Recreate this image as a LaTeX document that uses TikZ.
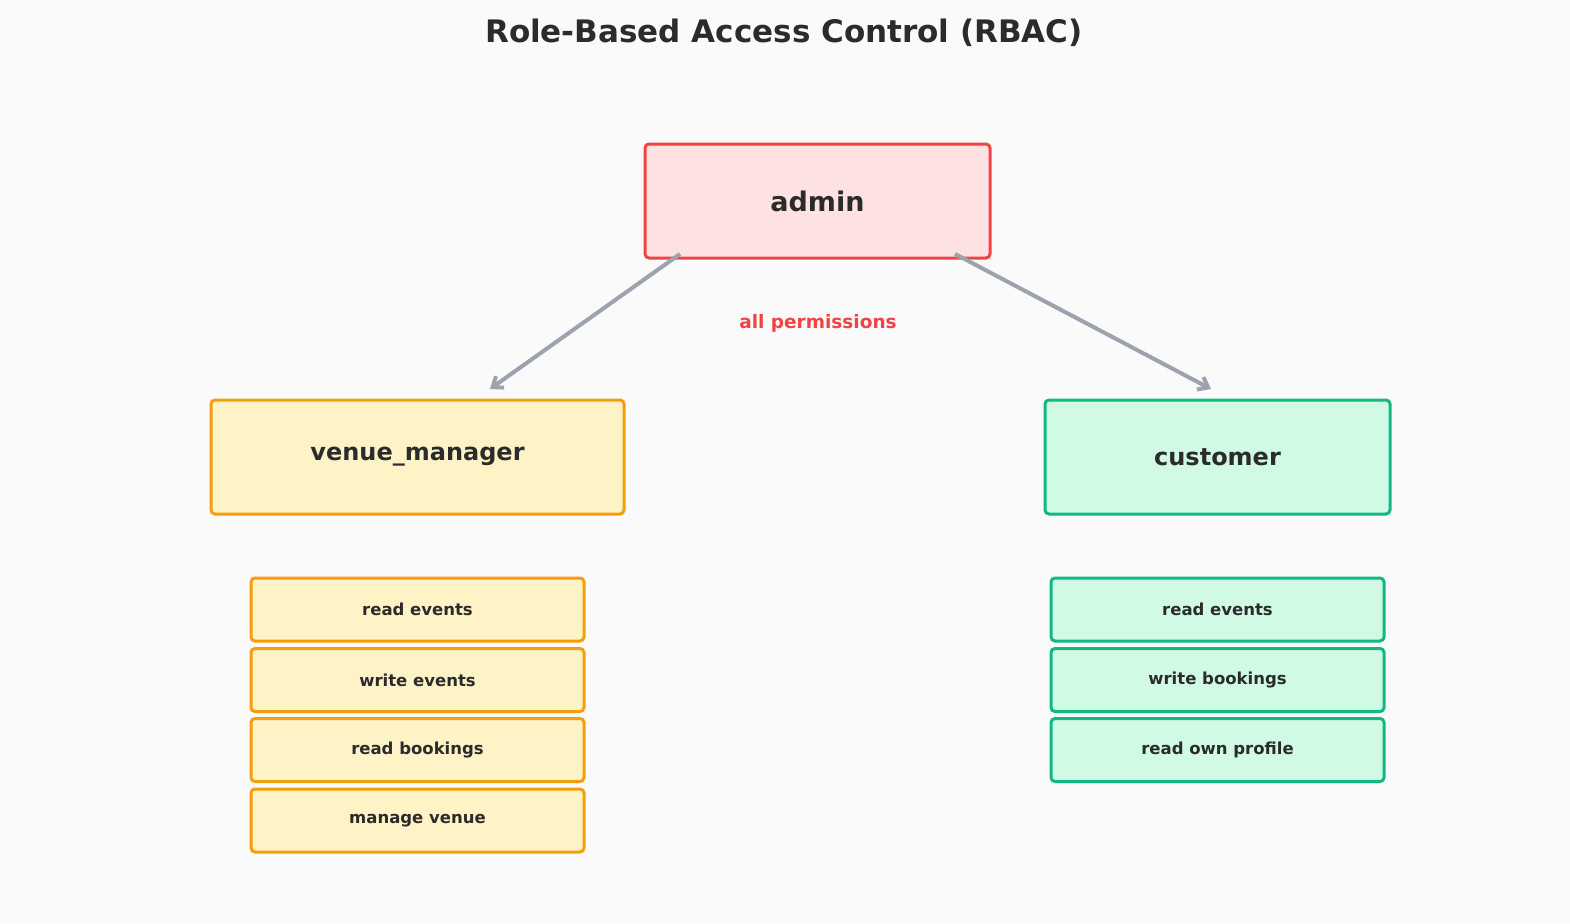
\documentclass[tikz,border=0pt]{standalone}
\usepackage{fontspec}
\setmainfont{DejaVu Sans}
\usetikzlibrary{arrows.meta}
\definecolor{bg}{HTML}{FAFAFA}
\definecolor{txt}{HTML}{2B2B2B}
\definecolor{redb}{HTML}{EF4444}\definecolor{redf}{HTML}{FEE2E2}
\definecolor{orb}{HTML}{F59E0B}\definecolor{orf}{HTML}{FEF3C7}
\definecolor{grb}{HTML}{10B981}\definecolor{grf}{HTML}{D1FAE5}
\definecolor{arr}{HTML}{9CA3AF}
\begin{document}
\begin{tikzpicture}[x=1pt,y=-1pt,
 box/.style={draw,line width=3pt,rounded corners=4pt,inner sep=0pt,text=txt,font=\bfseries},
 role/.style={box,minimum height=114pt,font=\fontsize{24}{28}\selectfont\bfseries},
 perm/.style={box,minimum width=333pt,minimum height=63pt,font=\fontsize{16.5}{20}\selectfont\bfseries},
 vm/.style={perm,draw=orb,fill=orf},
 cu/.style={perm,draw=grb,fill=grf},
 link/.style={draw=arr,line width=4pt,-{Stealth[length=12pt,width=14pt,inset=0pt,open]}}]
\fill[bg] (0,0) rectangle (1570,923);
\node[text=txt,font=\fontsize{31}{36}\selectfont\bfseries] (title) at (784,33) {Role-Based Access Control (RBAC)};
\node[role,draw=redb,fill=redf,minimum width=345pt,font=\fontsize{27}{32}\selectfont\bfseries] (admin) at (817.5,201) {admin};
\node[role,draw=orb,fill=orf,minimum width=413pt] (vmgr) at (417.5,457) {venue\_manager};
\node[role,draw=grb,fill=grf,minimum width=345pt] (cust) at (1217.5,457) {customer};
\coordinate (a1) at (680,254); \coordinate (b1) at (490,389);
\coordinate (a2) at (955,254); \coordinate (b2) at (1211,389);
\draw[link,-{Straight Barb[length=9pt,width=14pt]}] (a1) -- (b1);
\draw[link,-{Straight Barb[length=9pt,width=14pt]}] (a2) -- (b2);
\node[text=redb,font=\fontsize{18.5}{22}\selectfont\bfseries] (allp) at (818,323) {all permissions};
\node[vm] (v1) at (417.5,609.5) {read events};
\node[vm] (v2) at (417.5,680) {write events};
\node[vm] (v3) at (417.5,750) {read bookings};
\node[vm] (v4) at (417.5,820.5) {manage venue};
\node[cu] (c1) at (1217.5,609.5) {read events};
\node[cu] (c2) at (1217.5,680) {write bookings};
\node[cu] (c3) at (1217.5,750) {read own profile};
\end{tikzpicture}
\end{document}
